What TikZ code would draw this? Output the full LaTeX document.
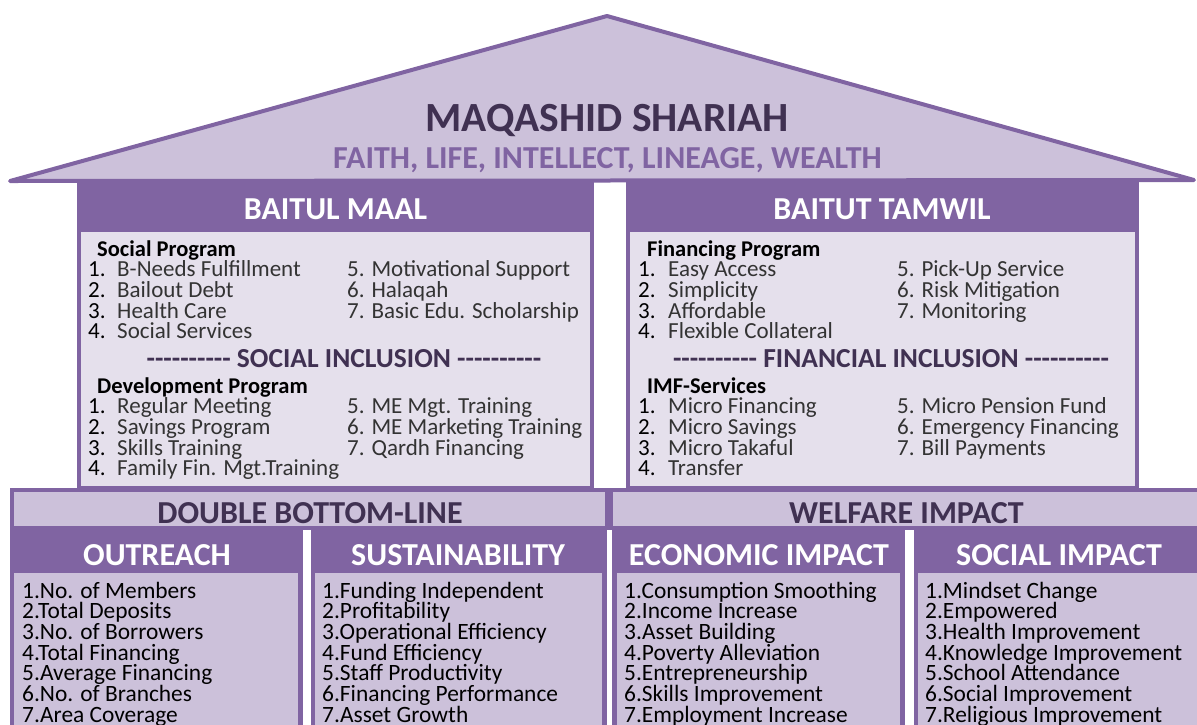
\documentclass[tikz,border=0pt]{standalone}
\usepackage{fontspec}
\setmainfont{Carlito}[Ligatures=TeXOff]
\definecolor{plum}{HTML}{8064A2}
\definecolor{lilac}{HTML}{CCC1DA}
\definecolor{mist}{HTML}{E5E0EC}
\definecolor{grape}{HTML}{403152}
\begin{document}
\begin{tikzpicture}[x=1pt,y=-1pt,
  every node/.style={inner sep=0pt},
  headtxt/.style={anchor=base,text=white,font=\bfseries\fontsize{32}{32}\selectfont},
  bandtxt/.style={anchor=base,text=grape,font=\bfseries\fontsize{32}{32}\selectfont},
  incltxt/.style={anchor=base,text=grape,font=\bfseries\fontsize{27.5}{27.5}\selectfont},
  progtxt/.style={anchor=base west,text=black,text height=15pt,text depth=4pt,font=\bfseries\fontsize{22.5}{22.5}\selectfont},
  itemtxt/.style={anchor=base west,text=black!80,text height=15pt,text depth=4pt,font=\fontsize{23}{23}\selectfont},
  numtxt/.style={anchor=base west,text=black,text height=15pt,text depth=4pt,font=\fontsize{23}{23}\selectfont},
  lowtxt/.style={anchor=base west,text=black,text height=15pt,text depth=4pt,font=\fontsize{23.4}{23.4}\selectfont}]
\useasboundingbox (0,0) rectangle (1197,724);
\clip (0,0) rectangle (1197,724);

% roof
\draw[fill=lilac,draw=plum,line width=4pt,line join=round,line cap=round]
  (10,181) -- (607,16) -- (1194,180) -- cycle;
\node[anchor=base,text=grape,font=\bfseries\fontsize{41.5}{41.5}\selectfont] (title) at (607,131) {MAQASHID SHARIAH};
\node[anchor=base,text=plum,font=\bfseries\fontsize{32}{32}\selectfont] (values) at (607.5,168) {FAITH, LIFE, INTELLECT, LINEAGE, WEALTH};

% upper pillars
\fill[plum] (77,181) rectangle (594,490);
\fill[mist] (81,232) rectangle (590,486);
\fill[plum] (626,181) rectangle (1139,490);
\fill[mist] (630,232) rectangle (1135,486);
\node[headtxt] (maal) at (335.5,219) {BAITUL MAAL};
\node[headtxt] (tamwil) at (882,219) {BAITUT TAMWIL};

% Baitul Maal lists
\node[progtxt] (socprog) at (97,256) {Social Program};
\foreach \t [count=\i] in {B-Needs Fulfillment,Bailout Debt,Health Care,Social Services}{
  \node[numtxt] (sn\i) at (88,256+20.7*\i) {\i.};
  \node[itemtxt] (sp\i) at (117,256+20.7*\i) {\t};
}
\foreach \t [count=\i from 5] in {Motivational Support,Halaqah,Basic Edu. Scholarship}{
  \node[itemtxt] (sp\i) at (347,256+20.7*\i-82.8) {\i. \t};
}
\node[incltxt] (socincl) at (344,367) {---------- SOCIAL INCLUSION ----------};
\node[progtxt] (devprog) at (97,393) {Development Program};
\foreach \t [count=\i] in {Regular Meeting,Savings Program,Skills Training,Family Fin. Mgt.Training}{
  \node[numtxt] (dn\i) at (88,393+20.7*\i) {\i.};
  \node[itemtxt] (dp\i) at (117,393+20.7*\i) {\t};
}
\foreach \t [count=\i from 5] in {ME Mgt. Training,ME Marketing Training,Qardh Financing}{
  \node[itemtxt] (dp\i) at (347,393+20.7*\i-82.8) {\i. \t};
}

% Baitut Tamwil lists
\node[progtxt] (finprog) at (647,256) {Financing Program};
\foreach \t [count=\i] in {Easy Access,Simplicity,Affordable,Flexible Collateral}{
  \node[numtxt] (fn\i) at (638,256+20.7*\i) {\i.};
  \node[itemtxt] (fp\i) at (668,256+20.7*\i) {\t};
}
\foreach \t [count=\i from 5] in {Pick-Up Service,Risk Mitigation,Monitoring}{
  \node[itemtxt] (fp\i) at (897,256+20.7*\i-82.8) {\i. \t};
}
\node[incltxt] (finincl) at (891,367) {---------- FINANCIAL INCLUSION ----------};
\node[progtxt] (imf) at (647,393) {IMF-Services};
\foreach \t [count=\i] in {Micro Financing,Micro Savings,Micro Takaful,Transfer}{
  \node[numtxt] (mn\i) at (638,393+20.7*\i) {\i.};
  \node[itemtxt] (mp\i) at (668,393+20.7*\i) {\t};
}
\foreach \t [count=\i from 5] in {Micro Pension Fund,Emergency Financing,Bill Payments}{
  \node[itemtxt] (mp\i) at (897,393+20.7*\i-82.8) {\i. \t};
}

% lower bands
\draw[plum,fill=lilac,line width=4pt] (11.5,490) rectangle (607,528);
\draw[plum,fill=lilac,line width=4pt] (611,490) rectangle (1205,528);
\node[bandtxt] (dbl) at (310,523) {DOUBLE BOTTOM-LINE};
\node[bandtxt] (welfare) at (906.5,523) {WELFARE IMPACT};

% lower pillars
\fill[plum] (9.5,529) rectangle (303,730);
\fill[lilac] (14,573) rectangle (298,730);
\fill[plum] (311,529) rectangle (607,730);
\fill[lilac] (315,573) rectangle (602,730);
\fill[plum] (612,529) rectangle (905,730);
\fill[lilac] (617,573) rectangle (900,730);
\fill[plum] (914,529) rectangle (1205,730);
\fill[lilac] (918,573) rectangle (1205,730);
\node[headtxt] (outreach) at (157,565) {OUTREACH};
\node[headtxt] (sustain) at (458,565) {SUSTAINABILITY};
\node[headtxt] (econ) at (759,565) {ECONOMIC IMPACT};
\node[headtxt] (social) at (1059,565) {SOCIAL IMPACT};

\foreach \t [count=\i] in {No. of Members,Total Deposits,No. of Borrowers,Total Financing,Average Financing,No. of Branches,Area Coverage}{
  \node[lowtxt] (out\i) at (22,577.3+20.7*\i) {\i.\t};
}
\foreach \t [count=\i] in {Funding Independent,Profitability,Operational Efficiency,Fund Efficiency,Staff Productivity,Financing Performance,Asset Growth}{
  \node[lowtxt] (sus\i) at (322,577.3+20.7*\i) {\i.\t};
}
\foreach \t [count=\i] in {Consumption Smoothing,Income Increase,Asset Building,Poverty Alleviation,Entrepreneurship,Skills Improvement,Employment Increase}{
  \node[lowtxt] (eco\i) at (624,577.3+20.7*\i) {\i.\t};
}
\foreach \t [count=\i] in {Mindset Change,Empowered,Health Improvement,Knowledge Improvement,School Attendance,Social Improvement,Religious Improvement}{
  \node[lowtxt] (soc\i) at (925,577.3+20.7*\i) {\i.\t};
}
\end{tikzpicture}
\end{document}
